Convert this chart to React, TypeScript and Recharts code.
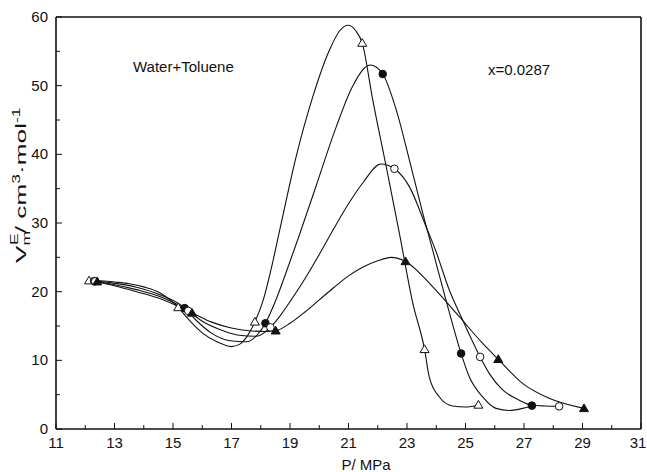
import React from 'react';
import { ComposedChart, Line, Scatter, XAxis, YAxis, ReferenceLine } from 'recharts';

// axis ticks (minor + major), labels only on the major ones
const xTicks = [11, 12, 13, 14, 15, 16, 17, 18, 19, 20, 21, 22, 23, 24, 25, 26, 27, 28, 29, 30, 31];
const yTicks = [0, 5, 10, 15, 20, 25, 30, 35, 40, 45, 50, 55, 60];

// fitted curves [P / MPa, V / cm3 mol-1]
const curveOpenTri: [number, number][] = [
  [12.13, 21.6], [12.5, 21.6], [13.0, 21.4], [13.5, 21.15], [14.0, 20.7], [14.55, 19.85],
  [15.18, 17.7], [15.5, 16.1], [16.0, 14.0], [16.5, 12.7], [17.0, 12.0], [17.3, 12.4],
  [17.55, 13.6], [17.8, 15.6], [18.1, 19.0], [18.35, 23.2], [18.65, 29.0], [19.2, 39.5],
  [19.78, 48.4], [20.35, 55.2], [20.7, 58.0], [20.98, 58.8], [21.25, 58.0], [21.47, 56.2],
  [21.83, 47.9], [22.29, 38.2], [22.74, 28.5], [23.2, 18.3], [23.6, 11.6], [23.76, 7.6],
  [24.1, 4.7], [24.56, 3.35], [25.0, 3.2], [25.44, 3.5],
];
const curveFilledCircle: [number, number][] = [
  [12.31, 21.55], [12.96, 21.25], [13.75, 20.65], [14.55, 19.55], [15.4, 17.6], [15.8, 15.8],
  [16.3, 14.0], [16.9, 12.9], [17.5, 12.7], [17.9, 13.8], [18.16, 15.4], [18.5, 18.6],
  [18.9, 23.2], [19.3, 28.0], [19.9, 35.5], [20.58, 44.0], [21.15, 50.0], [21.74, 53.0],
  [22.17, 51.7], [22.63, 46.5], [23.08, 39.2], [23.54, 31.4], [23.88, 26.0], [24.33, 18.8],
  [24.85, 11.0], [25.13, 7.6], [25.58, 4.7], [26.04, 3.0], [26.5, 2.7], [26.95, 3.0], [27.27, 3.4],
];
const curveOpenCircle: [number, number][] = [
  [12.34, 21.5], [12.96, 21.05], [13.75, 20.3], [14.55, 19.3], [15.52, 17.2], [16.0, 15.7],
  [16.6, 14.5], [17.2, 13.7], [17.85, 13.5], [18.33, 14.8], [18.7, 16.7], [19.04, 18.8],
  [19.5, 21.8], [20.0, 25.4], [20.5, 29.2], [21.0, 32.8], [21.5, 35.9], [22.11, 38.6],
  [22.57, 37.9], [23.08, 35.3], [23.65, 29.5], [23.97, 26.1], [24.45, 20.2], [24.9, 15.9],
  [25.5, 10.5], [25.81, 8.1], [26.27, 5.7], [26.84, 4.2], [27.24, 3.5], [27.7, 3.35], [28.2, 3.3],
];
const curveFilledTri: [number, number][] = [
  [12.41, 21.45], [12.96, 20.9], [13.75, 20.0], [14.55, 19.0], [15.65, 16.9], [16.3, 15.6],
  [17.0, 14.7], [17.6, 14.3], [18.19, 14.2], [18.51, 14.3], [19.0, 15.4], [19.5, 17.0],
  [20.0, 18.8], [20.5, 20.6], [21.0, 22.3], [21.5, 23.6], [22.0, 24.5], [22.46, 25.0],
  [22.95, 24.4], [23.88, 20.7], [24.79, 16.35], [25.58, 12.5], [26.12, 10.15], [26.95, 6.65],
  [27.86, 4.47], [29.05, 3.0],
];

// measured points
const pointsOpenTri: [number, number][] = [[12.13, 21.6], [15.18, 17.7], [17.8, 15.6], [21.47, 56.2], [23.6, 11.6], [25.44, 3.5]];
const pointsFilledCircle: [number, number][] = [[12.31, 21.55], [15.4, 17.6], [18.16, 15.4], [22.17, 51.7], [24.85, 11.0], [27.27, 3.4]];
const pointsOpenCircle: [number, number][] = [[12.34, 21.5], [15.52, 17.2], [18.33, 14.8], [22.57, 37.9], [25.5, 10.5], [28.2, 3.3]];
const pointsFilledTri: [number, number][] = [[12.41, 21.45], [15.65, 16.9], [18.51, 14.3], [22.95, 24.4], [26.12, 10.15], [29.05, 3.0]];

const toXY = (arr: [number, number][]) => arr.map(([x, y]) => ({ x, y }));

const INK = '#111';
const FONT = '"Liberation Sans", Arial, Helvetica, sans-serif';

const XTick = (props: any) => {
  const { x, y, payload } = props;
  const v = payload.value;
  const major = v % 2 === 1;
  // keep the last label inside the picture
  const tx = Math.min(x, 647 - 9);
  return (
    <g>
      <line x1={x} x2={x} y1={y} y2={y - (major ? 6 : 4)} stroke={INK} strokeWidth={1} />
      {major && (
        <text x={tx} y={y + 19} textAnchor="middle" fontSize={15} fontFamily={FONT} fill={INK}>
          {v}
        </text>
      )}
    </g>
  );
};

const YTick = (props: any) => {
  const { x, y, payload } = props;
  const v = payload.value;
  const major = v % 10 === 0;
  return (
    <g>
      <line x1={x} x2={x + (major ? 6 : 4)} y1={y} y2={y} stroke={INK} strokeWidth={1} />
      {major && (
        <text x={x - 8} y={y + 5} textAnchor="end" fontSize={15} fontFamily={FONT} fill={INK}>
          {v}
        </text>
      )}
    </g>
  );
};

const openTriangle = (p: any) => (
  <path d={`M${p.cx},${p.cy - 4.5} L${p.cx + 4.5},${p.cy + 3.2} L${p.cx - 4.5},${p.cy + 3.2} Z`} fill="#fff" stroke={INK} strokeWidth={1} />
);
const filledTriangle = (p: any) => (
  <path d={`M${p.cx},${p.cy - 4.5} L${p.cx + 4.5},${p.cy + 3.2} L${p.cx - 4.5},${p.cy + 3.2} Z`} fill={INK} stroke={INK} strokeWidth={1} />
);
const openCircle = (p: any) => <circle cx={p.cx} cy={p.cy} r={3.8} fill="#fff" stroke={INK} strokeWidth={1} />;
const filledCircle = (p: any) => <circle cx={p.cx} cy={p.cy} r={3.8} fill={INK} stroke={INK} strokeWidth={1} />;

const curves = [curveOpenTri, curveFilledCircle, curveOpenCircle, curveFilledTri];

export default function App() {
  return (
    <div style={{ position: 'absolute', left: 0, top: 0, width: 647, height: 472, background: '#fff' }}>
      <ComposedChart width={647} height={472} margin={{ top: 17, right: 6, left: 0, bottom: 0 }}>
        <XAxis
          type="number"
          dataKey="x"
          domain={[11, 31]}
          ticks={xTicks}
          interval={0}
          tickSize={0}
          tickMargin={0}
          tickLine={false}
          tick={<XTick />}
          height={43}
          axisLine={{ stroke: INK, strokeWidth: 1.6 }}
          allowDataOverflow
        />
        <YAxis
          type="number"
          dataKey="y"
          domain={[0, 60]}
          ticks={yTicks}
          interval={0}
          tickSize={0}
          tickMargin={0}
          tickLine={false}
          tick={<YTick />}
          width={56}
          axisLine={{ stroke: INK, strokeWidth: 1.6 }}
          allowDataOverflow
        />
        <ReferenceLine y={60} stroke={INK} strokeWidth={1.6} />
        <ReferenceLine x={31} stroke={INK} strokeWidth={1.6} />
        {curves.map((c, i) => (
          <Line
            key={`curve-${i}`}
            data={toXY(c)}
            dataKey="y"
            type="monotone"
            stroke={INK}
            strokeWidth={1.1}
            dot={false}
            activeDot={false}
            isAnimationActive={false}
          />
        ))}
        <Scatter data={toXY(pointsOpenTri)} dataKey="y" shape={openTriangle} isAnimationActive={false} />
        <Scatter data={toXY(pointsFilledCircle)} dataKey="y" shape={filledCircle} isAnimationActive={false} />
        <Scatter data={toXY(pointsOpenCircle)} dataKey="y" shape={openCircle} isAnimationActive={false} />
        <Scatter data={toXY(pointsFilledTri)} dataKey="y" shape={filledTriangle} isAnimationActive={false} />
      </ComposedChart>

      {/* titles and annotations */}
      <svg width={647} height={472} style={{ position: 'absolute', left: 0, top: 0, pointerEvents: 'none' }}>
        <g fontFamily={FONT} fill={INK}>
          <text x={133} y={72} fontSize={15}>Water+Toluene</text>
          <text x={488} y={75} fontSize={15}>x=0.0287</text>
          <text x={366} y={470} fontSize={15} textAnchor="middle">P/ MPa</text>
          <text transform="translate(26,263) rotate(-90) scale(1.75,1)" fontSize={15}>
            V<tspan fontSize={10} dy={4}>m</tspan>
            <tspan fontSize={10} dx={-8} dy={-12}>E</tspan>
            <tspan dy={8}>/ cm</tspan>
            <tspan fontSize={10} dy={-6}>3</tspan>
            <tspan dy={6}>·mol</tspan>
            <tspan fontSize={10} dy={-6}>-1</tspan>
          </text>
        </g>
      </svg>
    </div>
  );
}
